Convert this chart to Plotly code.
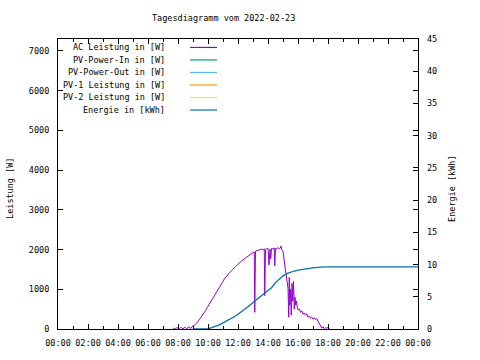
import plotly.graph_objects as go

DAY = "2022-02-23"

ac_times = ["07:40","07:45","07:50","07:55","08:00","08:05","08:10","08:15","08:20","08:25",
            "08:30","08:35","08:40","08:45","08:50","08:55","09:00","09:05","09:10","09:15",
            "09:20","09:25","09:30","09:35","09:40","09:45","09:50","09:55","10:00","10:05",
            "10:10","10:15","10:20","10:25","10:30","10:35","10:40","10:45","10:50","10:55",
            "11:00","11:05","11:10","11:15","11:20","11:25","11:30","11:35","11:40","11:45",
            "11:50","11:55","12:00","12:05","12:10","12:15","12:20","12:25","12:30","12:35",
            "12:40","12:45","12:50","12:55","13:00","13:05","13:07","13:10","13:15","13:20",
            "13:25","13:30","13:35","13:40","13:45","13:47","13:50","13:55","14:00","14:04",
            "14:08","14:11","14:14","14:20","14:25","14:27","14:30","14:35","14:40","14:45",
            "14:50","14:52","14:55","15:00","15:04","15:08","15:12","15:16","15:20","15:23",
            "15:25","15:27","15:30","15:33","15:36","15:39","15:42","15:45","15:48","15:51",
            "15:54","15:57","16:00","16:05","16:10","16:15","16:20","16:25","16:30","16:35",
            "16:40","16:45","16:50","16:55","17:00","17:05","17:10","17:15","17:20","17:25",
            "17:30","17:35","17:40","17:45","17:50","17:55","18:00","18:05"]
ac_power = [0,20,10,30,25,0,30,35,0,40,
            35,0,45,50,10,60,80,90,110,150,
            190,230,280,320,370,410,460,520,570,630,
            690,740,790,850,900,950,1000,1050,1100,1150,
            1200,1260,1290,1330,1370,1410,1450,1480,1510,1540,
            1570,1600,1640,1680,1700,1720,1740,1770,1790,1810,
            1830,1860,1880,1900,1925,1940,420,1960,1970,1990,
            1990,2000,2010,1990,2020,840,2000,2020,2030,1610,
            2010,1770,2030,2010,2040,1590,2030,2020,2050,2020,
            2040,2090,1990,1960,1650,1560,1400,1200,1025,300,
            1300,600,1000,350,1150,700,1200,500,800,600,
            700,550,480,500,420,460,380,400,350,380,
            300,320,270,300,250,280,240,260,200,120,
            40,20,60,10,30,20,40,0]

energy_times = ["09:00","09:30","10:00","10:15","10:30","10:45","11:00","11:15","11:30","11:45",
                "12:00","12:15","12:30","12:45","13:00","13:15","13:30","13:45","14:00","14:15",
                "14:30","14:45","15:00","15:15","15:30","15:45","16:00","16:30","17:00","17:30",
                "18:00","24:00"]
energy_kwh = [0,0.0,0.05,0.2,0.4,0.65,0.95,1.25,1.55,1.9,
              2.3,2.7,3.15,3.6,4.1,4.6,5.05,5.55,6.05,6.45,
              7.2,7.75,8.25,8.6,8.85,9.0,9.15,9.35,9.5,9.6,
              9.65,9.65]

legend_names = ["AC Leistung in [W]", "PV-Power-In in [W]", "PV-Power-Out in [W]",
                "PV-1 Leistung in [W]", "PV-2 Leistung in [W]", "Energie in [kWh]"]
legend_colors = ["#9400D3", "#009E73", "#56B4E9", "#E69F00", "#F0E442", "#0072B2"]

left_ticks = [0, 1000, 2000, 3000, 4000, 5000, 6000, 7000]
right_ticks = [0, 5, 10, 15, 20, 25, 30, 35, 40, 45]
x_tick_hours = list(range(0, 25, 2))


def ts(t):
    if t == "24:00":
        return "2022-02-24 00:00"
    return f"{DAY} {t}"


FONT = "DejaVu Sans Mono"
FS = 8.5
W, H = 480, 360
L, R, T, B = 58, 62, 39, 29
PW, PH = W - L - R, H - T - B

fig = go.Figure()
fig.add_trace(go.Scatter(x=[ts(t) for t in ac_times], y=ac_power, mode="lines",
                         line=dict(color=legend_colors[0], width=1),
                         name=legend_names[0]))
fig.add_trace(go.Scatter(x=[ts(t) for t in energy_times], y=energy_kwh, mode="lines",
                         line=dict(color=legend_colors[5], width=1.3),
                         name=legend_names[5], yaxis="y2"))

def px(xp):
    return (xp - L) / PW

def py(yp):
    return (H - B - yp) / PH

annotations = []
shapes = []
leg_y0 = 47.5
for i, (nm, col) in enumerate(zip(legend_names, legend_colors)):
    yy = leg_y0 + 12.6 * i
    annotations.append(dict(x=px(167), y=py(yy), xref="paper", yref="paper", text=nm,
                            showarrow=False, xanchor="right", yanchor="middle",
                            font=dict(family=FONT, size=FS, color="black")))
    shapes.append(dict(type="line", xref="paper", yref="paper", x0=px(190), x1=px(217),
                       y0=py(yy), y1=py(yy), line=dict(color=col, width=1.2)))

annotations.append(dict(x=px(223), y=py(18), xref="paper", yref="paper",
                        text="Tagesdiagramm vom 2022-02-23", showarrow=False,
                        xanchor="center", yanchor="middle",
                        font=dict(family=FONT, size=FS, color="black")))
annotations.append(dict(x=px(10), y=py(190), xref="paper", yref="paper", text="Leistung [W]",
                        showarrow=False, textangle=-90, xanchor="center", yanchor="middle",
                        font=dict(family=FONT, size=FS, color="black")))
annotations.append(dict(x=px(452), y=py(190), xref="paper", yref="paper", text="Energie [kWh]",
                        showarrow=False, textangle=-90, xanchor="center", yanchor="middle",
                        font=dict(family=FONT, size=FS, color="black")))

fig.update_layout(
    width=W, height=H, margin=dict(l=L, r=R, t=T, b=B),
    paper_bgcolor="white", plot_bgcolor="white", showlegend=False,
    font=dict(family=FONT, size=FS, color="black"),
    annotations=annotations, shapes=shapes,
    xaxis=dict(type="date", range=["2022-02-23 00:00", "2022-02-24 00:00"],
               tickvals=[f"2022-02-23 {h:02d}:00" if h < 24 else "2022-02-24 00:00" for h in x_tick_hours],
               ticktext=[f"{h % 24:02d}:00" for h in x_tick_hours],
               ticks="inside", ticklen=5, tickcolor="black", showgrid=False, zeroline=False,
               showline=True, linecolor="black", linewidth=1, mirror="ticks",
               ticklabelstandoff=6,
               minor=dict(ticks="inside", ticklen=3, dtick=3600000, tickcolor="black"),
               tickfont=dict(family=FONT, size=FS)),
    yaxis=dict(range=[0, 7300], tickvals=left_ticks, ticks="inside", ticklen=5,
               tickcolor="black", showgrid=False, zeroline=False, showline=True,
               linecolor="black", linewidth=1, mirror="ticks", ticklabelstandoff=6,
               tickfont=dict(family=FONT, size=FS)),
    yaxis2=dict(range=[0, 45], tickvals=right_ticks, overlaying="y",
                side="right", ticks="inside", ticklen=5, tickcolor="black", showgrid=False,
                zeroline=False, showline=False, ticklabelstandoff=8,
                tickfont=dict(family=FONT, size=FS)),
)

fig.write_html("out.html", post_script="document.body.style.margin='0';",
               config={"displayModeBar": False})
